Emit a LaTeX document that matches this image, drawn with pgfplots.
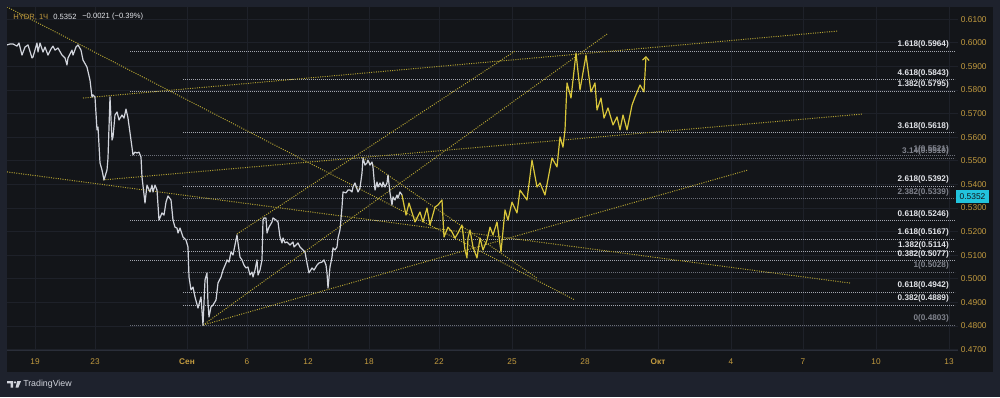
\documentclass[border=0pt]{standalone}
\usepackage{pgfplots}
\pgfplotsset{compat=1.18}
\usepackage{pgfplotstable}
\usepackage{fontspec}
\setmainfont{Liberation Sans}
\usetikzlibrary{arrows.meta}
\definecolor{frame}{HTML}{1E222D}
\definecolor{panel}{HTML}{131519}
\definecolor{gridc}{HTML}{1E2129}
\definecolor{sepc}{HTML}{2A2E39}
\definecolor{gold}{HTML}{C39B3F}
\definecolor{pline}{HTML}{D1D4DC}
\definecolor{proj}{HTML}{D9C63A}
\definecolor{trend}{HTML}{B3A232}
\definecolor{fibw}{HTML}{A3A6AF}
\definecolor{fibg}{HTML}{6B6E78}
\definecolor{labw}{HTML}{E3E5EA}
\definecolor{labg}{HTML}{80838D}
\definecolor{tag}{HTML}{22C3DD}
\newcommand\fs[1]{\fontsize{#1}{#1}\selectfont}
\tikzset{
  fw/.style={fibw, line width=0.7pt, dash pattern=on 0.7pt off 0.8pt},
  fg/.style={fibg, line width=0.7pt, dash pattern=on 0.7pt off 0.8pt},
  tr/.style={trend, line width=0.75pt, dash pattern=on 0.75pt off 1pt},
  lw/.style={anchor=south east, text=labw, inner sep=0pt, yshift=1.9pt, font=\bfseries\fs{6.15pt}},
  lg/.style={anchor=south east, text=labg, inner sep=0pt, yshift=1.9pt, font=\bfseries\fs{6.15pt}}
}

\pgfplotstableread{
x p
7 0.5991
10 0.5995
13 0.5995
17 0.5986
19 0.5999
22 0.5948
25 0.5982
28 0.5991
32 0.5936
33 0.5940
37 0.5999
38 0.5961
40 0.5999
43 0.5961
45 0.5982
48 0.5948
51 0.5974
53 0.5986
55 0.5969
58 0.5978
62 0.5948
65 0.5936
67 0.5906
68 0.5936
72 0.5969
73 0.5948
76 0.5982
78 0.5991
81 0.5969
83 0.5927
87 0.5897
90 0.5842
92 0.5770
93 0.5779
95 0.5770
97 0.5631
98 0.5643
100 0.5491
102 0.5461
104 0.5419
107 0.5461
108 0.5512
110 0.5770
112 0.5588
113 0.5601
115 0.5694
117 0.5707
119 0.5673
122 0.5694
124 0.5681
126 0.5719
128 0.5681
131 0.5588
133 0.5525
135 0.5537
137 0.5533
139 0.5537
141 0.5516
142 0.5431
145 0.5321
147 0.5397
150 0.5368
152 0.5397
153 0.5368
155 0.5397
157 0.5376
159 0.5249
162 0.5279
164 0.5270
166 0.5325
168 0.5351
171 0.5334
173 0.5249
175 0.5219
177 0.5215
178 0.5194
180 0.5215
183 0.5177
186 0.5164
188 0.5135
189 0.5008
191 0.4953
193 0.4965
195 0.4923
198 0.4876
201 0.4923
203 0.4803
205 0.4995
207 0.5025
208 0.4897
209 0.4838
211 0.4881
213 0.4889
216 0.4910
218 0.4982
221 0.5008
223 0.5037
226 0.5067
227 0.5080
229 0.5071
231 0.5114
233 0.5101
234 0.5122
237 0.5186
238 0.5152
240 0.5092
242 0.5080
244 0.5058
246 0.5046
248 0.5050
250 0.5016
252 0.5029
253 0.5008
255 0.5037
257 0.5080
258 0.5016
260 0.5037
262 0.5080
263 0.5249
264 0.5258
266 0.5258
267 0.5194
269 0.5219
272 0.5241
273 0.5258
276 0.5249
278 0.5241
280 0.5177
282 0.5152
283 0.5173
285 0.5152
287 0.5156
290 0.5143
293 0.5156
294 0.5135
296 0.5143
298 0.5152
300 0.5135
303 0.5122
305 0.5114
307 0.5067
309 0.5025
312 0.5046
314 0.5037
317 0.5058
319 0.5067
322 0.5071
324 0.5080
326 0.5058
327 0.5025
328 0.4961
330 0.5050
332 0.5092
333 0.5131
335 0.5122
337 0.5135
338 0.5173
340 0.5207
342 0.5304
343 0.5368
346 0.5364
348 0.5376
350 0.5376
352 0.5368
353 0.5389
355 0.5406
358 0.5368
360 0.5385
362 0.5448
363 0.5512
365 0.5482
367 0.5491
368 0.5503
370 0.5482
372 0.5495
373 0.5474
375 0.5376
377 0.5410
378 0.5389
380 0.5406
382 0.5389
383 0.5410
385 0.5389
387 0.5406
388 0.5440
390 0.5364
392 0.5313
393 0.5347
395 0.5334
397 0.5355
398 0.5342
400 0.5368
402 0.5355
}\histdata

\pgfplotstableread{
x p
402 0.5355
403 0.5334
406 0.5270
409 0.5321
415 0.5241
420 0.5283
423 0.5241
427 0.5300
430 0.5228
435 0.5304
438 0.5313
442 0.5334
444 0.5177
448 0.5219
452 0.5198
455 0.5173
458 0.5194
462 0.5228
465 0.5122
467 0.5088
468 0.5173
470 0.5207
473 0.5135
477 0.5088
480 0.5173
483 0.5122
487 0.5164
490 0.5219
493 0.5186
497 0.5241
501 0.5114
505 0.5292
508 0.5249
512 0.5325
517 0.5279
520 0.5376
527 0.5334
532 0.5503
537 0.5389
540 0.5406
545 0.5355
552 0.5512
557 0.5474
560 0.5601
563 0.5558
565 0.5631
567 0.5830
571 0.5766
576 0.5957
580 0.5800
586 0.5948
591 0.5792
595 0.5830
597 0.5715
601 0.5766
604 0.5681
608 0.5724
613 0.5652
617 0.5686
620 0.5631
623 0.5694
627 0.5631
632 0.5736
635 0.5770
640 0.5821
644 0.5792
646 0.5944
}\projdata

\begin{document}
\begin{tikzpicture}
\begin{scope}[x=0.75pt,y=-0.75pt]
\fill[frame] (0,0) rectangle (1000,397);
\fill[panel] (7,7) rectangle (993,372);
\end{scope}
\begin{axis}[
  at={(5.25pt,-262.5pt)}, anchor=south west,
  scale only axis, width=713.25pt, height=257.25pt,
  xmin=7, xmax=958, ymin=0.46983, ymax=0.61517,
  axis line style={draw=none},
  tick style={draw=none},
  grid=major, major grid style={gridc, line width=0.75pt},
  xtick={35,95,187,247,308,369,439,512,585,658,731,803,876,949},
  xticklabels={19,23,\textbf{Сен},6,12,18,22,25,28,\textbf{Окт},4,7,10,13},
  x tick label style={font=\fs{6.2pt}, text=gold, anchor=north, inner sep=0pt, yshift=-6.3pt},
  ytick={0.47,0.48,0.49,0.50,0.51,0.52,0.53,0.54,0.55,0.56,0.57,0.58,0.59,0.60,0.61},
  yticklabel pos=right,
  y tick label style={font=\fs{6.3pt}, text=gold, anchor=west, inner sep=0pt, xshift=2pt,
    /pgf/number format/.cd, fixed, fixed zerofill, precision=4, assume math mode=true},
]
% Fibonacci levels
\addplot[fw] coordinates {(130,0.5964) (955,0.5964)};
\addplot[fw] coordinates {(183,0.5843) (955,0.5843)};
\addplot[fw] coordinates {(130,0.5795) (955,0.5795)};
\addplot[fw] coordinates {(183,0.5618) (955,0.5618)};
\addplot[fg] coordinates {(130,0.5521) (955,0.5521)};
\addplot[fg] coordinates {(183,0.5510) (955,0.5510)};
\addplot[fw] coordinates {(183,0.5392) (955,0.5392)};
\addplot[fg] coordinates {(183,0.5339) (955,0.5339)};
\addplot[fw] coordinates {(130,0.5246) (955,0.5246)};
\addplot[fw] coordinates {(183,0.5167) (955,0.5167)};
\addplot[fw] coordinates {(183,0.5114) (955,0.5114)};
\addplot[fw] coordinates {(130,0.5077) (955,0.5077)};
\addplot[fg] coordinates {(183,0.5028) (955,0.5028)};
\addplot[fw] coordinates {(183,0.4942) (955,0.4942)};
\addplot[fw] coordinates {(183,0.4889) (955,0.4889)};
\addplot[fg] coordinates {(130,0.4803) (955,0.4803)};
% trend lines
\addplot[tr] coordinates {(7,0.6152) (575,0.4910)};
\addplot[tr] coordinates {(7,0.5453) (850,0.4982)};
\addplot[tr] coordinates {(83,0.5766) (838,0.6050)};
\addplot[tr] coordinates {(103,0.5419) (862,0.5698)};
\addplot[tr] coordinates {(237,0.5190) (515,0.5965)};
\addplot[tr] coordinates {(203,0.4804) (607,0.6037)};
\addplot[tr] coordinates {(203,0.4804) (748,0.5461)};
\addplot[tr] coordinates {(363,0.5512) (537,0.5003)};
% price
\addplot[pline, line width=0.9pt, line join=round] table[x=x,y=p]{\histdata};
\addplot[proj, line width=0.9pt, line join=round, -{Straight Barb[length=2.6pt,width=5pt]}] table[x=x,y=p]{\projdata};
% labels
\node[lw] at (axis cs:949,0.5964) {1.618(0.5964)};
\node[lw] at (axis cs:949,0.5843) {4.618(0.5843)};
\node[lw] at (axis cs:949,0.5795) {1.382(0.5795)};
\node[lw] at (axis cs:949,0.5618) {3.618(0.5618)};
\node[lg] at (axis cs:949,0.5521) {1(0.5521)};
\node[lg] at (axis cs:949,0.5510) {3.14(0.5510)};
\node[lw] at (axis cs:949,0.5392) {2.618(0.5392)};
\node[lg] at (axis cs:949,0.5339) {2.382(0.5339)};
\node[lw] at (axis cs:949,0.5246) {0.618(0.5246)};
\node[lw] at (axis cs:949,0.5167) {1.618(0.5167)};
\node[lw] at (axis cs:949,0.5114) {1.382(0.5114)};
\node[lw] at (axis cs:949,0.5077) {0.382(0.5077)};
\node[lg] at (axis cs:949,0.5028) {1(0.5028)};
\node[lw] at (axis cs:949,0.4942) {0.618(0.4942)};
\node[lw] at (axis cs:949,0.4889) {0.382(0.4889)};
\node[lg] at (axis cs:949,0.4803) {0(0.4803)};
\end{axis}
\begin{scope}[x=0.75pt,y=-0.75pt]
\draw[sepc, line width=0.75pt] (7,350) -- (958,350);
\node[anchor=west, inner sep=0pt, text=gold, font=\fs{5.7pt}] at (13,17) {HYDR, 1Ч};
\node[anchor=west, inner sep=0pt, text=labw, font=\fs{5.7pt}] at (53,17) {0.5352};
\node[anchor=west, inner sep=0pt, text=labw, font=\fs{5.7pt}] at (82,17) {−0.0021 (−0.39\%)};
\fill[tag] (956,190) rectangle (989,203);
\node[inner sep=0pt, text=panel, font=\fs{6.3pt}] at (972.5,196.8) {0.5352};
\fill[pline] (7,381) -- (13,381) -- (13,387.5) -- (10.6,387.5) -- (10.6,383.4) -- (7,383.4) -- cycle;
\fill[pline] (15,382.4) circle (1.3);
\fill[pline] (17.2,381) -- (21,381) -- (18.4,387.5) -- (15.6,387.5) -- cycle;
\node[anchor=west, inner sep=0pt, text=pline, font=\fs{6.6pt}] at (23,384.5) {TradingView};
\pgfresetboundingbox
\useasboundingbox (0,0) rectangle (1000,397);
\end{scope}
\end{tikzpicture}
\end{document}
